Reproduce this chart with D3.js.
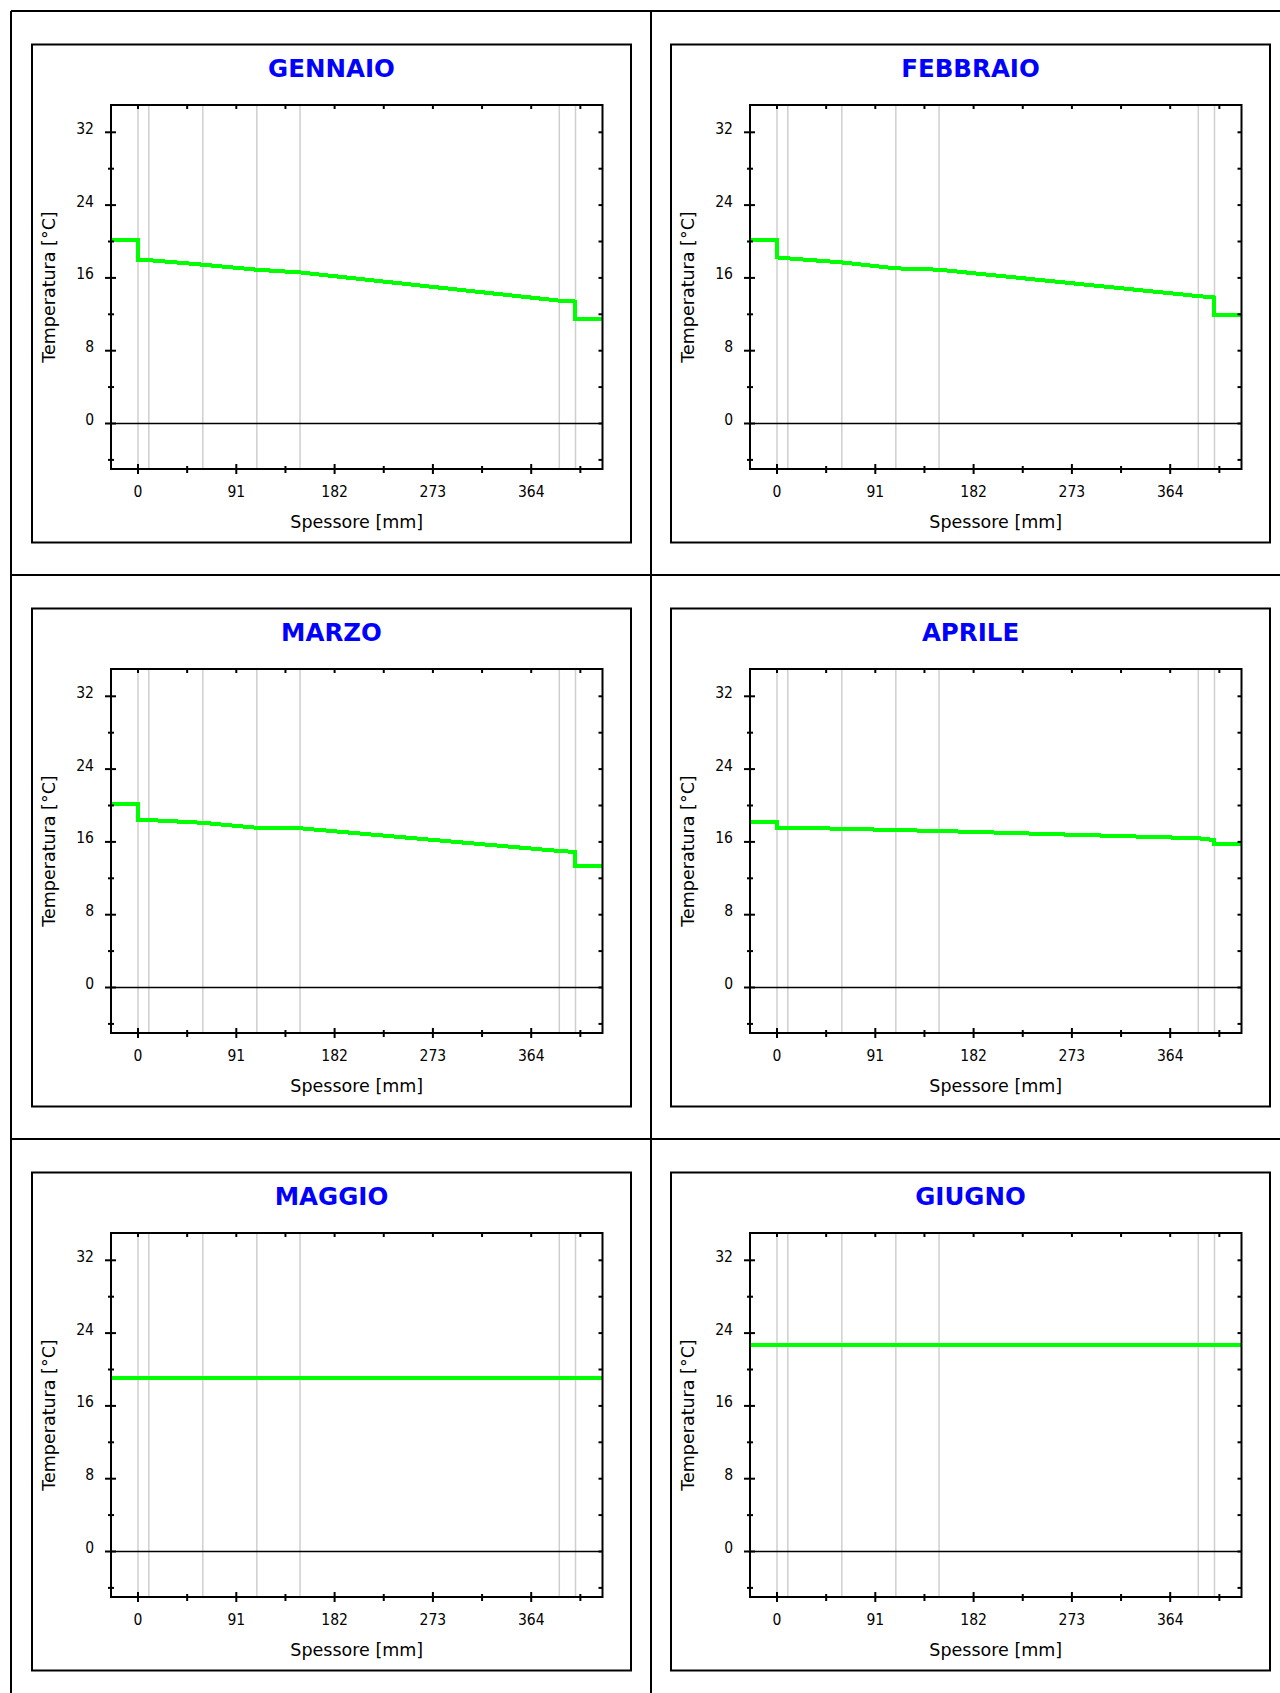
<!DOCTYPE html>
<html>
<head>
<meta charset="utf-8">
<script src="https://cdn.jsdelivr.net/npm/d3@7"></script>
<style>
  body { margin: 0; background: #fff; }
  svg { display: block; font-family: "DejaVu Sans", sans-serif; }
  .title { font-weight: bold; font-size: 24.5px; fill: #0000ff; }
  .ticklabel { font-family: "DejaVu Sans Condensed", "DejaVu Sans", sans-serif; font-size: 15.5px; fill: #000; }
  .axistitle { font-size: 17.5px; fill: #000; }
</style>
</head>
<body>
<div id="chart"></div>
<script>
// monthly temperature profiles through the wall
var months = ["GENNAIO", "FEBBRAIO", "MARZO", "APRILE", "MAGGIO", "GIUGNO"];
var layerEdges = [0, 10, 60, 110, 150, 390, 405];
var interiorTemp = [20.2, 20.2, 20.2, 18.2, 19.1, 22.7];
var exteriorTemp = [11.45, 11.9, 13.4, 15.75, 19.1, 22.7];
var edgeTemps = [
  [18.0, 17.95, 17.45, 16.9, 16.6, 13.5, 13.4],
  [18.25, 18.15, 17.7, 17.05, 16.9, 14.0, 13.85],
  [18.45, 18.4, 18.1, 17.55, 17.5, 15.0, 14.9],
  [17.55, 17.55, 17.45, 17.3, 17.2, 16.4, 16.2],
  [19.1, 19.1, 19.1, 19.1, 19.1, 19.1, 19.1],
  [22.7, 22.7, 22.7, 22.7, 22.7, 22.7, 22.7]
];
var xDomain = [-25, 430];
var yDomain = [-5, 35];
var xTicks = [0, 91, 182, 273, 364];
var xMinorTicks = [45.5, 136.5, 227.5, 318.5, 409.5];
var yTicks = [0, 8, 16, 24, 32];
var yMinorTicks = [-4, 4, 12, 20, 28];

var width = 1280;
var height = 1693;
var gridX = 11, gridY = 11;
var cellW = 640, cellH = 564;
var panelW = 599, panelH = 498;
var panelDx = [21, 20];
var panelDy = 33.5;
var margin = { top: 60.5, right: 28.5, bottom: 73.5, left: 79 };
var plotW = panelW - margin.left - margin.right;
var plotH = panelH - margin.top - margin.bottom;

var x = d3.scaleLinear().domain(xDomain).range([0, plotW]);
var y = d3.scaleLinear().domain(yDomain).range([plotH, 0]);

var line = d3.line()
  .x(function(d) { return x(d[0]); })
  .y(function(d) { return y(d[1]); });

function profile(i) {
  var pts = [[xDomain[0], interiorTemp[i]], [layerEdges[0], interiorTemp[i]]];
  layerEdges.forEach(function(e, k) { pts.push([e, edgeTemps[i][k]]); });
  var last = layerEdges[layerEdges.length - 1];
  pts.push([last, exteriorTemp[i]]);
  pts.push([xDomain[1], exteriorTemp[i]]);
  return pts;
}

var svg = d3.select("#chart")
  .append("svg")
    .attr("width", width)
    .attr("height", height);

svg.append("rect")
  .attr("width", width)
  .attr("height", height)
  .attr("fill", "#fff");

// outer table
var grid = svg.append("g")
  .attr("stroke", "#000")
  .attr("stroke-width", 2);

[0, 1, 2].forEach(function(c) {
  grid.append("line")
    .attr("x1", gridX + c * cellW).attr("x2", gridX + c * cellW)
    .attr("y1", gridY).attr("y2", height);
});
[0, 1, 2, 3].forEach(function(r) {
  grid.append("line")
    .attr("x1", gridX).attr("x2", width)
    .attr("y1", gridY + r * cellH).attr("y2", gridY + r * cellH);
});

months.forEach(function(name, i) {
  var col = i % 2, row = Math.floor(i / 2);
  var px = gridX + col * cellW + panelDx[col];
  var py = gridY + row * cellH + panelDy;

  var panel = svg.append("g")
    .attr("transform", "translate(" + px + "," + py + ")");

  panel.append("rect")
    .attr("width", panelW)
    .attr("height", panelH)
    .attr("fill", "#fff")
    .attr("stroke", "#000")
    .attr("stroke-width", 2);

  panel.append("text")
    .attr("class", "title")
    .attr("x", panelW / 2)
    .attr("y", 32)
    .attr("text-anchor", "middle")
    .text(name);

  var g = panel.append("g")
    .attr("transform", "translate(" + margin.left + "," + margin.top + ")");

  // layer boundaries
  g.selectAll(".layer")
    .data(layerEdges)
    .enter().append("line")
      .attr("class", "layer")
      .attr("x1", function(d) { return x(d); })
      .attr("x2", function(d) { return x(d); })
      .attr("y1", 0)
      .attr("y2", plotH)
      .attr("stroke", "#cfcfcf")
      .attr("stroke-width", 1.5);

  // zero line
  g.append("line")
    .attr("x1", 0).attr("x2", plotW)
    .attr("y1", y(0)).attr("y2", y(0))
    .attr("stroke", "#000")
    .attr("stroke-width", 1.5);

  g.append("path")
    .datum(profile(i))
    .attr("d", line)
    .attr("fill", "none")
    .attr("stroke", "#00ff00")
    .attr("stroke-width", 4)
    .attr("shape-rendering", "crispEdges");

  g.append("rect")
    .attr("width", plotW)
    .attr("height", plotH)
    .attr("fill", "none")
    .attr("stroke", "#000")
    .attr("stroke-width", 2);

  var ticks = g.append("g")
    .attr("stroke", "#000")
    .attr("stroke-width", 2);

  // left axis ticks (cross the frame)
  ticks.selectAll(".ly")
    .data(yTicks.map(function(v) { return [v, 6, 5]; })
      .concat(yMinorTicks.map(function(v) { return [v, 3, 3]; })))
    .enter().append("line")
      .attr("x1", function(d) { return -d[1]; })
      .attr("x2", function(d) { return d[2]; })
      .attr("y1", function(d) { return y(d[0]); })
      .attr("y2", function(d) { return y(d[0]); });

  // right axis ticks (inside)
  ticks.selectAll(".ry")
    .data(yTicks.concat(yMinorTicks))
    .enter().append("line")
      .attr("x1", plotW - 4)
      .attr("x2", plotW)
      .attr("y1", function(d) { return y(d); })
      .attr("y2", function(d) { return y(d); });

  // bottom axis ticks
  ticks.selectAll(".bx")
    .data(xTicks.map(function(v) { return [v, 5, 5]; })
      .concat(xMinorTicks.map(function(v) { return [v, 3, 4]; })))
    .enter().append("line")
      .attr("x1", function(d) { return x(d[0]); })
      .attr("x2", function(d) { return x(d[0]); })
      .attr("y1", function(d) { return plotH - d[1]; })
      .attr("y2", function(d) { return plotH + d[2]; });

  // top axis ticks (inside)
  ticks.selectAll(".tx")
    .data(xTicks.concat(xMinorTicks))
    .enter().append("line")
      .attr("x1", function(d) { return x(d); })
      .attr("x2", function(d) { return x(d); })
      .attr("y1", 0)
      .attr("y2", 4);

  g.selectAll(".ylab")
    .data(yTicks)
    .enter().append("text")
      .attr("class", "ticklabel")
      .attr("x", -17)
      .attr("y", function(d) { return y(d); })
      .attr("dy", "0.1em")
      .attr("text-anchor", "end")
      .text(function(d) { return d; });

  g.selectAll(".xlab")
    .data(xTicks)
    .enter().append("text")
      .attr("class", "ticklabel")
      .attr("x", function(d) { return x(d); })
      .attr("y", plotH + 28)
      .attr("text-anchor", "middle")
      .text(function(d) { return d; });

  g.append("text")
    .attr("class", "axistitle")
    .attr("x", plotW / 2)
    .attr("y", plotH + 58.5)
    .attr("text-anchor", "middle")
    .text("Spessore [mm]");

  g.append("text")
    .attr("class", "axistitle")
    .attr("transform", "translate(" + (23 - margin.left) + "," + (plotH / 2) + ") rotate(-90)")
    .attr("text-anchor", "middle")
    .text("Temperatura [°C]");
});
</script>
</body>
</html>
